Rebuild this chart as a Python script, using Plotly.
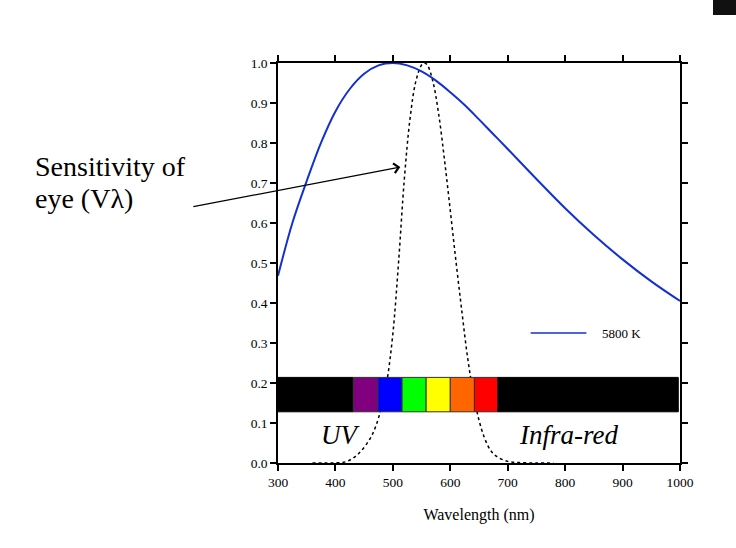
import plotly.graph_objects as go

# Blackbody 5800 K (normalised)
bb_wl = [300, 325, 350, 375, 400, 425, 450, 475, 500, 525, 550, 575, 600, 625, 650, 675, 700,
         750, 800, 850, 900, 950, 1000]
bb_val = [0.468, 0.600, 0.705, 0.801, 0.879, 0.935, 0.973, 0.994, 1.000, 0.994, 0.979, 0.956,
          0.927, 0.895, 0.859, 0.822, 0.785, 0.710, 0.637, 0.570, 0.509, 0.454, 0.405]

# Eye sensitivity V(lambda)
v_wl = [360, 380, 400, 420, 440, 460, 470, 480, 490, 500, 510, 520, 530, 540, 550, 555, 560, 570,
        580, 590, 600, 610, 620, 630, 640, 650, 660, 670, 680, 700, 720, 750, 780]
v_val = [0.0, 0.0001, 0.0004, 0.004, 0.023, 0.060, 0.091, 0.139, 0.208, 0.323, 0.503, 0.710,
         0.862, 0.954, 0.995, 1.000, 0.995, 0.952, 0.870, 0.757, 0.631, 0.503, 0.381, 0.265,
         0.175, 0.107, 0.061, 0.032, 0.017, 0.004, 0.001, 0.0001, 0.0]

# Spectrum bar segments
seg_start = [300, 431, 474, 516, 558, 600, 642, 683]
seg_end = [431, 474, 516, 558, 600, 642, 683, 997]
seg_color = ["#000000", "#800080", "#0000ff", "#00ff00", "#ffff00", "#ff6600", "#ff0000", "#000000"]
bar_bottom, bar_top = 0.128, 0.214

x_ticks = [300, 400, 500, 600, 700, 800, 900, 1000]
y_ticks = [0.0, 0.1, 0.2, 0.3, 0.4, 0.5, 0.6, 0.7, 0.8, 0.9, 1.0]

serif = "Liberation Serif"

fig = go.Figure()
fig.add_trace(go.Scatter(x=v_wl, y=v_val, mode="lines", line=dict(color="black", width=1.5, dash="dot"),
                         showlegend=False, line_shape="spline"))
fig.add_trace(go.Scatter(x=bb_wl, y=bb_val, mode="lines", line=dict(color="#1430d0", width=2),
                         showlegend=False, line_shape="spline"))

shapes = []
for s, e, c in zip(seg_start, seg_end, seg_color):
    shapes.append(dict(type="rect", xref="x", yref="y", x0=s, x1=e, y0=bar_bottom, y1=bar_top,
                       fillcolor=c, line=dict(color="#333333" if c != "#000000" else "#000000", width=1),
                       layer="above"))
# legend line
shapes.append(dict(type="line", xref="x", yref="y", x0=740, x1=837, y0=0.325, y1=0.325,
                   line=dict(color="#1430d0", width=1.5)))
# dark box top-right corner
shapes.append(dict(type="rect", xref="paper", yref="paper", x0=(713 - 278) / 402, x1=(736 - 278) / 402,
                   y0=(463 - 15) / 400, y1=(463 + 10) / 400 + 0.2, fillcolor="#111111", line=dict(width=0)))

annotations = [
    dict(x=(600 - 278) / 402 * 700 + 300, y=0.325, xref="x", yref="y", text="5800 K", showarrow=False,
         xanchor="left", font=dict(family=serif, size=13, color="black")),
    dict(x=408, y=0.07, xref="x", yref="y", text="<i>UV</i>", showarrow=False,
         font=dict(family=serif, size=27, color="black")),
    dict(x=806, y=0.07, xref="x", yref="y", text="<i>Infra-red</i>", showarrow=False,
         font=dict(family=serif, size=27, color="black")),
    dict(x=(33 - 278) / 402, y=(463 - 166) / 400, xref="paper", yref="paper",
         text="Sensitivity of", showarrow=False, xanchor="left", yanchor="middle", align="left",
         font=dict(family=serif, size=28, color="black")),
    dict(x=(33 - 278) / 402, y=(463 - 198) / 400, xref="paper", yref="paper",
         text="eye (Vλ)", showarrow=False, xanchor="left", yanchor="middle", align="left",
         font=dict(family=serif, size=28, color="black")),
    dict(x=513, y=0.74, xref="x", yref="y", ax=150, ay=0.64, axref="x", ayref="y", text="",
         showarrow=True, arrowhead=4, arrowsize=1.6, arrowwidth=1.2, arrowcolor="black", standoff=0),
]

fig.update_layout(
    width=736, height=548,
    margin=dict(l=278, r=56, t=63, b=85),
    paper_bgcolor="white", plot_bgcolor="white",
    shapes=shapes, annotations=annotations,
    font=dict(family=serif, color="black", size=13),
    xaxis=dict(range=[300, 1000], tickvals=x_ticks, ticktext=[str(v) for v in x_ticks],
               showline=True, linecolor="black", linewidth=1.5, mirror="ticks", ticks="outside",
               ticklen=6, tickwidth=1.5, tickcolor="black", showgrid=False, zeroline=False,
               title=dict(text="Wavelength (nm)", font=dict(family=serif, size=16), standoff=20),
               tickfont=dict(family=serif, size=13.5)),
    yaxis=dict(range=[0, 1.0], tickvals=y_ticks, ticktext=[f"{v:.1f}" for v in y_ticks],
               showline=True, linecolor="black", linewidth=1.5, mirror="ticks", ticks="outside",
               ticklen=6, tickwidth=1.5, tickcolor="black", showgrid=False, zeroline=False,
               tickfont=dict(family=serif, size=13.5)),
)

fig.write_html("out.html")
